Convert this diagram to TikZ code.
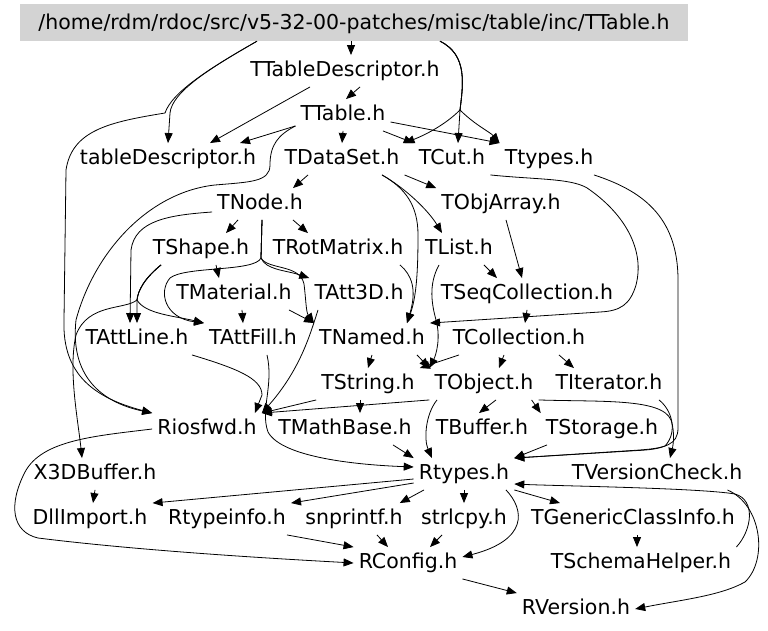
\documentclass[tikz,border=0pt]{standalone}
\usepackage{fontspec}
\setmainfont{DejaVu Sans}
\usetikzlibrary{arrows.meta}
\definecolor{RootFill}{HTML}{D3D3D3}
\definecolor{EdgeInk}{HTML}{000000}

\begin{document}
\begin{tikzpicture}[x=1pt, y=-1pt,
  hfile/.style={inner xsep=5pt, inner ysep=6pt, text height=15pt, text depth=4.5pt,
                font=\fontsize{20.5}{24}\selectfont},
  topfile/.style={hfile, text depth=0pt, fill=RootFill, minimum width=668pt, minimum height=37pt},
  dep/.style={draw=EdgeInk, line width=0.8pt, -{Triangle[length=10pt,width=8pt]}}]
  \useasboundingbox (0,0) rectangle (768,631);
  \node[topfile] (root) at (354,22.5) {/home/rdm/rdoc/src/v5-32-00-patches/misc/table/inc/TTable.h};
  \node[hfile] (TTableDesc) at (345,71) {TTableDescriptor.h};
  \node[hfile] (TTable) at (343,115) {TTable.h};
  \node[hfile] (tableDesc) at (168,159) {tableDescriptor.h};
  \node[hfile] (TDataSet) at (342,159) {TDataSet.h};
  \node[hfile] (TCut) at (452,159) {TCut.h};
  \node[hfile] (Ttypes) at (549,159) {Ttypes.h};
  \node[hfile] (TNode) at (260,204) {TNode.h};
  \node[hfile] (TObjArray) at (501,204) {TObjArray.h};
  \node[hfile] (TShape) at (201,249) {TShape.h};
  \node[hfile] (TRotMatrix) at (338,249) {TRotMatrix.h};
  \node[hfile] (TList) at (459,249) {TList.h};
  \node[hfile] (TMaterial) at (234,294) {TMaterial.h};
  \node[hfile] (TAtt3D) at (359,294) {TAtt3D.h};
  \node[hfile] (TSeqColl) at (527,294) {TSeqCollection.h};
  \node[hfile] (TAttLine) at (137,339) {TAttLine.h};
  \node[hfile] (TAttFill) at (253,339) {TAttFill.h};
  \node[hfile] (TNamed) at (372,339) {TNamed.h};
  \node[hfile] (TCollection) at (519,339) {TCollection.h};
  \node[hfile] (TString) at (368,384) {TString.h};
  \node[hfile] (TObject) at (484,384) {TObject.h};
  \node[hfile] (TIterator) at (609,384) {TIterator.h};
  \node[hfile] (Riosfwd) at (207,429) {Riosfwd.h};
  \node[hfile] (TMathBase) at (345,429) {TMathBase.h};
  \node[hfile] (TBuffer) at (482,429) {TBuffer.h};
  \node[hfile] (TStorage) at (602,429) {TStorage.h};
  \node[hfile] (X3DBuffer) at (95,474) {X3DBuffer.h};
  \node[hfile] (Rtypes) at (464,474) {Rtypes.h};
  \node[hfile] (TVersionCheck) at (657,474) {TVersionCheck.h};
  \node[hfile] (DllImport) at (90,519) {DllImport.h};
  \node[hfile] (Rtypeinfo) at (227,519) {Rtypeinfo.h};
  \node[hfile] (snprintf) at (354,519) {snprintf.h};
  \node[hfile] (strlcpy) at (464,519) {strlcpy.h};
  \node[hfile] (TGenericCI) at (633,519) {TGenericClassInfo.h};
  \node[hfile] (RConfig) at (408,563) {RConfig.h};
  \node[hfile] (TSchemaHelper) at (641,563) {TSchemaHelper.h};
  \node[hfile] (RVersion) at (576,609) {RVersion.h};

  \draw[dep] ([xshift=-3pt]root.south) -- ([xshift=6pt]TTableDesc.north);
  \draw[dep] ([xshift=-97pt]root.south) .. controls (210,68) and (172,92) .. (170,113) -- (tableDesc.north);
  \draw[dep] ([xshift=-97pt]root.south) .. controls (210,68) and (172,92) .. (165,113) .. controls (110,122) and (72,130) .. (66,170) -- (64,320) .. controls (62,375) and (95,398) .. (Riosfwd.north west);
  \draw[dep] ([xshift=86pt]root.south) .. controls (468,55) and (463,85) .. (460,110) .. controls (445,125) and (425,135) .. (TDataSet.north east);
  \draw[dep] ([xshift=86pt]root.south) .. controls (468,55) and (463,85) .. (460,110) -- ([xshift=6pt]TCut.north);
  \draw[dep] ([xshift=86pt]root.south) .. controls (468,55) and (463,85) .. (460,110) .. controls (475,125) and (490,132) .. (Ttypes.north west);

  \draw[dep] ([xshift=15pt]TTableDesc.south) -- ([xshift=3pt]TTable.north);
  \draw[dep] ([xshift=-35pt]TTableDesc.south) -- ([xshift=42pt]tableDesc.north);
  \draw[dep] ([yshift=5pt]TTable.south west) -- ([xshift=72pt]tableDesc.north);
  \draw[dep] (TTable.south) -- (TDataSet.north);
  \draw[dep] ([xshift=40pt]TTable.south) -- (TCut.north west);
  \draw[dep] ([yshift=-7pt]TTable.east) -- (Ttypes.north west);
  \draw[dep] ([yshift=5pt]TTable.south west) .. controls (278,135) and (270,145) .. (270,165) .. controls (270,182) and (250,182) .. (215,185) .. controls (150,192) and (95,250) .. (76,320) .. controls (70,375) and (100,402) .. (Riosfwd.north west);

  \draw[dep] ([xshift=-34pt]TDataSet.south) -- ([xshift=33pt]TNode.north);
  \draw[dep] (TDataSet.south east) -- (TObjArray.north west);
  \draw[dep] ([xshift=40pt]TDataSet.south) .. controls (405,188) and (428,210) .. ([xshift=-17pt]TList.north);
  \draw[dep] ([xshift=40pt]TDataSet.south) .. controls (405,188) and (418,205) .. (418,235) .. controls (418,275) and (416,298) .. ([xshift=35pt]TNamed.north);
  \draw[dep] (TCut.south east) .. controls (540,180) and (575,178) .. (590,190) .. controls (625,215) and (645,250) .. (636,285) .. controls (630,305) and (620,311) .. (600,312) -- (TNamed.north east);
  \draw[dep] ([xshift=45pt]Ttypes.south) .. controls (640,190) and (678,215) .. (678,280) -- (678,428) .. controls (678,445) and (665,448) .. (640,450) -- (Rtypes.north east);

  \draw[dep] ([xshift=-22pt]TNode.south) -- ([xshift=25pt]TShape.north);
  \draw[dep] ([xshift=33pt]TNode.south) -- ([xshift=-30pt]TRotMatrix.north);
  \draw[dep] ([yshift=-8pt]TNode.west) .. controls (170,215) and (135,220) .. (131,250) -- ([xshift=-7pt]TAttLine.north);
  \draw[dep] ([xshift=2pt]TNode.south) -- (261,258) .. controls (266,270) and (285,270) .. (TAtt3D.north west);
  \draw[dep] ([xshift=2pt]TNode.south) -- (261,258) .. controls (268,270) and (300,264) .. (304,284) .. controls (306,300) and (306,312) .. (TNamed.north west);
  \draw[dep] ([xshift=2pt]TNode.south) -- (261,258) .. controls (255,272) and (185,266) .. (170,278) .. controls (158,292) and (165,318) .. (TAttFill.north west);

  \draw[dep] ([xshift=15pt]TShape.south) -- ([xshift=-15pt]TMaterial.north);
  \draw[dep] ([xshift=-40pt]TShape.south) .. controls (145,278) and (138,290) .. (137,300) -- (TAttLine.north);
  \draw[dep] ([xshift=-40pt]TShape.south) .. controls (145,278) and (138,290) .. (137,300) .. controls (145,314) and (175,316) .. (TAttFill.north west);
  \draw[dep] ([xshift=-40pt]TShape.south) .. controls (145,278) and (138,290) .. (137,300) .. controls (125,310) and (88,303) .. (76,335) .. controls (68,370) and (78,420) .. ([xshift=-13pt]X3DBuffer.north);
  \draw[dep] ([xshift=62pt]TRotMatrix.south) .. controls (412,275) and (417,290) .. ([xshift=35pt]TNamed.north);
  \draw[dep] ([xshift=8pt]TMaterial.south) -- ([xshift=-10pt]TAttFill.north);
  \draw[dep] ([xshift=55pt]TMaterial.south) -- (TNamed.north west);
  \draw[dep] ([xshift=-41pt]TAtt3D.south) .. controls (310,335) and (300,370) .. (Riosfwd.north east);
  \draw[dep] ([xshift=55pt]TAttLine.south) .. controls (235,368) and (262,378) .. (262,395) -- ([xshift=-7pt]Riosfwd.north east);
  \draw[dep] ([xshift=14pt]TAttFill.south) .. controls (274,385) and (260,410) .. (268,432) .. controls (282,458) and (360,465) .. ([yshift=7pt]Rtypes.west);

  \draw[dep] ([xshift=25pt]TList.south) -- ([xshift=-30pt]TSeqColl.north);
  \draw[dep] ([xshift=-20pt]TList.south) .. controls (428,285) and (432,305) .. (436,320) .. controls (441,338) and (436,355) .. (TObject.north west);
  \draw[dep] ([xshift=5pt]TObjArray.south) -- ([xshift=-5pt]TSeqColl.north);
  \draw[dep] (TSeqColl.south) -- ([xshift=6pt]TCollection.north);
  \draw[dep] (TNamed.south) -- (TString.north);
  \draw[dep] ([xshift=45pt]TNamed.south) -- (TObject.north west);
  \draw[dep] ([xshift=-60pt]TCollection.south) -- (TString.north east);
  \draw[dep] ([xshift=-15pt]TCollection.south) -- ([xshift=15pt]TObject.north);
  \draw[dep] ([xshift=40pt]TCollection.south) -- ([xshift=-35pt]TIterator.north);

  \draw[dep] (TString.south west) -- (Riosfwd.north east);
  \draw[dep] ([xshift=-8pt]TString.south) -- ([xshift=15pt]TMathBase.north);
  \draw[dep] (TObject.south west) -- (Riosfwd.north east);
  \draw[dep] ([xshift=12pt]TObject.south) -- ([xshift=-3pt]TBuffer.north);
  \draw[dep] ([xshift=-47pt]TObject.south) .. controls (425,415) and (424,440) .. ([xshift=-32pt]Rtypes.north);
  \draw[dep] ([xshift=-7pt]TObject.south east) -- (TStorage.north west);
  \draw[dep] (TObject.south east) .. controls (600,402) and (662,398) .. (671,420) .. controls (676,435) and (672,450) .. ([xshift=13pt]TVersionCheck.north);
  \draw[dep] ([xshift=50pt]TIterator.south) .. controls (672,410) and (678,432) .. (665,446) .. controls (655,450) and (645,450) .. (630,451) -- (Rtypes.north east);
  \draw[dep] ([xshift=48pt]TMathBase.south) -- (Rtypes.north west);
  \draw[dep] ([xshift=-55pt]TStorage.south) -- (Rtypes.north east);
  \draw[dep] (Riosfwd.west) .. controls (95,436) and (42,440) .. (25,472) .. controls (8,505) and (12,532) .. (38,538) .. controls (150,552) and (300,560) .. (RConfig.west);
  \draw[dep] (X3DBuffer.south) -- ([xshift=3pt]DllImport.north);

  \draw[dep] ([yshift=-5pt]Rtypes.west) -- (DllImport.north east);
  \draw[dep] ([yshift=-9pt]Rtypes.west) -- (Rtypeinfo.north east);
  \draw[dep] ([xshift=-40pt]Rtypes.south) -- ([xshift=-8pt]snprintf.north east);
  \draw[dep] (Rtypes.south) -- (strlcpy.north);
  \draw[dep] ([xshift=42pt]Rtypes.south) .. controls (525,510) and (528,540) .. ([yshift=6pt]RConfig.east);
  \draw[dep] (Rtypes.south east) -- ([xshift=-73pt]TGenericCI.north);
  \draw[dep] ([xshift=4pt]TGenericCI.south) -- ([xshift=-4pt]TSchemaHelper.north);
  \draw[dep] (TSchemaHelper.north east) .. controls (752,530) and (756,500) .. (735,494) .. controls (700,488) and (560,486) .. ([yshift=-10pt]Rtypes.east);
  \draw[dep] ([xshift=-20pt]TVersionCheck.south east) .. controls (762,505) and (768,560) .. (745,582) .. controls (720,596) and (680,600) .. (RVersion.east);
  \draw[dep] ([xshift=60pt]Rtypeinfo.south) -- (RConfig.north west);
  \draw[dep] ([xshift=23pt]snprintf.south) -- ([xshift=-20pt]RConfig.north);
  \draw[dep] ([xshift=-22pt]strlcpy.south) -- ([xshift=22pt]RConfig.north);
  \draw[dep] (RConfig.south east) -- (RVersion.north west);
\end{tikzpicture}
\end{document}
